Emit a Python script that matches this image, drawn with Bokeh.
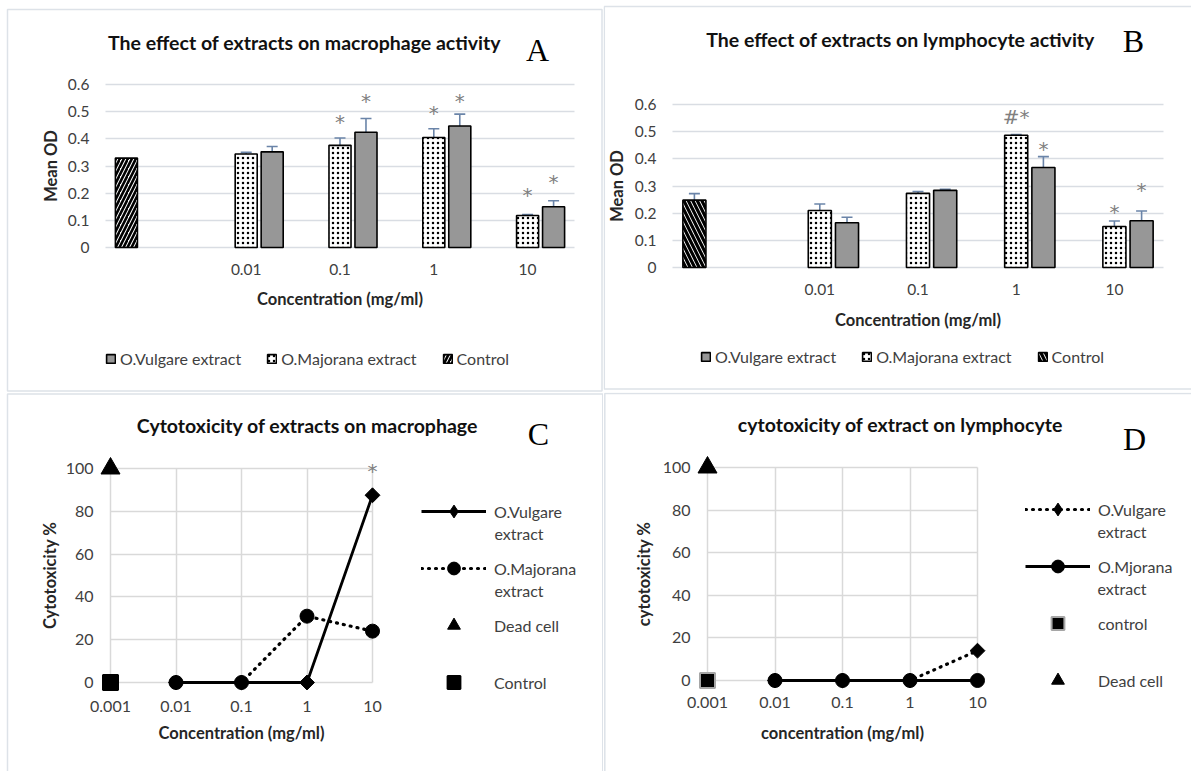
import math
from bokeh.plotting import figure
from bokeh.models import (Range1d, FixedTicker, Label, Legend, LegendItem, Whisker,
                          TeeHead, ColumnDataSource, BoxAnnotation)
from bokeh.layouts import row, column
from bokeh.embed import file_html
from bokeh.resources import INLINE
from bokeh.core.properties import value

# ---------------------------------------------------------------- data
bar_categories = ["", "0.01", "0.1", "1", "10"]
bar_yticks = [0, 0.1, 0.2, 0.3, 0.4, 0.5, 0.6]
bar_yticklabels = ["0", "0.1", "0.2", "0.3", "0.4", "0.5", "0.6"]

# A: macrophage activity (mean OD)
a_vulgare = [None, 0.352, 0.424, 0.447, 0.150]
a_vulgare_err = [None, 0.020, 0.051, 0.044, 0.022]
a_majorana = [None, 0.344, 0.376, 0.405, 0.118]
a_majorana_err = [None, 0.006, 0.027, 0.032, 0.003]
a_control = [0.329, None, None, None, None]
a_control_err = [None, None, None, None, None]
a_vulgare_sig = [None, None, "*", "*", "*"]
a_vulgare_sig_y = [None, None, 0.546, 0.546, 0.249]
a_majorana_sig = [None, None, "*", "*", "*"]
a_majorana_sig_y = [None, None, 0.470, 0.502, 0.202]

# B: lymphocyte activity (mean OD)
b_vulgare = [None, 0.165, 0.284, 0.368, 0.172]
b_vulgare_err = [None, 0.020, 0.004, 0.040, 0.036]
b_majorana = [None, 0.210, 0.273, 0.487, 0.151]
b_majorana_err = [None, 0.024, 0.007, 0.002, 0.020]
b_control = [0.248, None, None, None, None]
b_control_err = [0.024, None, None, None, None]
b_vulgare_sig = [None, None, None, "*", "*"]
b_vulgare_sig_y = [None, None, None, 0.442, 0.294]
b_majorana_sig = [None, None, None, "#*", "*"]
b_majorana_sig_y = [None, None, None, 0.560, 0.213]

# C / D: cytotoxicity (%)
line_xticks = [0.001, 0.01, 0.1, 1, 10]
line_xticklabels = ["0.001", "0.01", "0.1", "1", "10"]
line_yticks = [0, 20, 40, 60, 80, 100]
conc = [0.01, 0.1, 1, 10]
c_vulgare = [0, 0, 0, 87.5]
c_majorana = [0, 0, 31, 24]
c_vulgare_sig = [None, None, None, "*"]
c_vulgare_sig_y = [None, None, None, 100]
d_vulgare = [0, 0, 0, 14]
d_majorana = [0, 0, 0, 0]
ref_conc = [0.001]
dead_cell = [100]
control_cyto = [0]

# ---------------------------------------------------------------- style
FONT = "Lato"
SERIF = "Liberation Serif"
TXT = "#404040"
DARK = "#111111"
GRID_AB = "#d9dde3"
GRID_CD = "#d9d9d9"
ERR = "#6a84a8"
STAR = "#808080"
VUL_FILL = "#979797"
BORDER = "#dde2e8"


def make_ranges(g, dx, dy, xlog=False):
    """Ranges such that the data box dx x dy sits at insets l, r, t, b of the figure."""
    inner_w = g["W"] - g["l"] - g["r"]
    inner_h = g["H"] - g["t"] - g["b"]
    if xlog:
        a, b = math.log10(dx[0]), math.log10(dx[1])
        u = inner_w / (b - a)
        xr = (10 ** (a - g["l"] / u), 10 ** (b + g["r"] / u))
    else:
        u = inner_w / (dx[1] - dx[0])
        xr = (dx[0] - g["l"] / u, dx[1] + g["r"] / u)
    v = inner_h / (dy[1] - dy[0])
    yr = (dy[0] - g["b"] / v, dy[1] + g["t"] / v)
    return xr, yr


def page_to_data(g, xr, yr, xlog=False):
    def f(px, py):
        tx = (px - g["ox"]) / g["W"]
        ty = (g["oy"] + g["H"] - py) / g["H"]
        if xlog:
            a, b = math.log10(xr[0]), math.log10(xr[1])
            x = 10 ** (a + tx * (b - a))
        else:
            x = xr[0] + tx * (xr[1] - xr[0])
        return x, yr[0] + ty * (yr[1] - yr[0])
    return f


def new_fig(g, xr, yr, tick_size, xlog=False):
    kw = dict(width=g["W"], height=g["H"], x_range=Range1d(*xr), y_range=Range1d(*yr),
              output_backend="svg", toolbar_location=None, title=None,
              min_border_left=0, min_border_right=0, min_border_top=0, min_border_bottom=0)
    if xlog:
        kw["x_axis_type"] = "log"
    p = figure(**kw)
    p.outline_line_color = None
    p.background_fill_color = "white"
    p.border_fill_color = "white"
    for ax in (p.xaxis[0], p.yaxis[0]):
        ax.axis_line_color = None
        ax.major_tick_line_color = None
        ax.minor_tick_line_color = None
        ax.major_tick_in = 0
        ax.major_tick_out = 0
        ax.minor_tick_in = 0
        ax.minor_tick_out = 0
        ax.major_label_text_font = FONT
        ax.major_label_text_font_size = tick_size
        ax.major_label_text_color = TXT
        ax.axis_label_text_font = FONT
        ax.axis_label_text_font_size = "16.5px"
        ax.axis_label_text_font_style = "bold"
        ax.axis_label_text_color = "#262626"
    return p


def add_text(p, text, at, size, font, style="bold", color=DARK, align="center"):
    p.add_layout(Label(x=at[0], y=at[1], text=text, text_align=align,
                       text_baseline="middle", text_font=font, text_font_size=size,
                       text_font_style=style, text_color=color))


def add_border(p, to_data, box):
    x0, y0 = to_data(box[0], box[1])
    x1, y1 = to_data(box[2], box[3])
    p.add_layout(BoxAnnotation(left=x0, right=x1, top=y0, bottom=y1, fill_color=None,
                               fill_alpha=0, line_color=BORDER, line_alpha=1,
                               line_width=1.5))


def star_texts(p, xs_all, sig, sig_y):
    xs, ys, ts = [], [], []
    for c, s, y in zip(xs_all, sig, sig_y):
        if s is None:
            continue
        xs.append(c)
        ys.append(y)
        ts.append(s)
    if xs:
        p.text(x=xs, y=ys, text=ts, text_align="center", text_baseline="middle",
               text_font=value("DejaVu Sans"), text_font_size="20px", text_color=STAR,
               y_offset=2)


def bar_panel(g, title, letter, title_px, letter_px, border_box, vul, vul_err, maj, maj_err,
              ctrl, ctrl_err, vul_sig, vul_sig_y, maj_sig, maj_sig_y, ctrl_hatch,
              ctrl_scale, ctrl_weight, legend_loc, xlab_standoff, xtitle_standoff,
              ytitle_standoff):
    n = len(bar_categories)
    dx, dy = (0, n), (0, 0.6)
    xr, yr = make_ranges(g, dx, dy)
    p = new_fig(g, xr, yr, "15.5px")
    to_data = page_to_data(g, xr, yr)
    add_border(p, to_data, border_box)

    centers = [i + 0.5 for i in range(n)]
    slot, bw = 0.277, 0.235

    p.xgrid.visible = False
    p.ygrid.ticker = FixedTicker(ticks=bar_yticks)
    p.ygrid.grid_line_color = GRID_AB
    p.ygrid.grid_line_width = 1.3
    p.ygrid.cross_bounds = dx
    p.yaxis.fixed_location = dx[0]
    p.yaxis.bounds = dy
    p.yaxis.ticker = FixedTicker(ticks=bar_yticks)
    p.yaxis.major_label_overrides = dict(zip(bar_yticks, bar_yticklabels))
    p.yaxis.major_label_standoff = 16
    p.yaxis.axis_label = "Mean OD"
    p.yaxis.axis_label_standoff = ytitle_standoff
    p.xaxis.fixed_location = dy[0]
    p.xaxis.bounds = dx
    p.xaxis.ticker = FixedTicker(ticks=centers)
    p.xaxis.major_label_overrides = dict(zip(centers, bar_categories))
    p.xaxis.major_label_standoff = xlab_standoff
    p.xaxis.axis_label = "Concentration (mg/ml)"
    p.xaxis.axis_label_standoff = xtitle_standoff

    def series(vals, errs, off):
        xs, ys, lo, hi, ex = [], [], [], [], []
        for c, v, e in zip(centers, vals, errs):
            if v is None:
                continue
            xs.append(c + off)
            ys.append(v)
            if e is not None:
                ex.append(c + off)
                lo.append(v - e)
                hi.append(v + e)
        return dict(x=xs, top=ys), dict(x=ex, lower=lo, upper=hi)

    bars = {}
    specs = [
        ("ctrl", ctrl, ctrl_err, -slot, dict(fill_color="white", hatch_pattern=ctrl_hatch,
                                              hatch_color="black", hatch_scale=ctrl_scale,
                                              hatch_weight=ctrl_weight)),
        ("maj", maj, maj_err, 0.0, dict(fill_color="white", hatch_pattern="dot",
                                         hatch_color="black", hatch_scale=5, hatch_weight=1.1)),
        ("vul", vul, vul_err, slot, dict(fill_color=VUL_FILL)),
    ]
    for key, vals, errs, off, style in specs:
        bd, ed = series(vals, errs, off)
        r = p.vbar(x="x", top="top", bottom=0, width=bw, source=ColumnDataSource(bd),
                   line_color="black", line_width=1.6, **style)
        bars[key] = r
        if ed["x"]:
            w = Whisker(base="x", lower="lower", upper="upper", source=ColumnDataSource(ed),
                        line_color=ERR, line_width=1.6,
                        upper_head=TeeHead(size=11, line_color=ERR, line_width=1.6),
                        lower_head=TeeHead(size=11, line_color=ERR, line_width=1.6))
            p.add_layout(w)

    star_texts(p, centers, maj_sig, maj_sig_y)
    star_texts(p, [c + slot for c in centers], vul_sig, vul_sig_y)

    add_text(p, title, to_data(*title_px), "19.5px", FONT)
    add_text(p, letter, to_data(*letter_px), "32px", SERIF, style="normal", color="black")

    legend = Legend(items=[LegendItem(label="O.Vulgare extract", renderers=[bars["vul"]]),
                           LegendItem(label="O.Majorana extract", renderers=[bars["maj"]]),
                           LegendItem(label="Control", renderers=[bars["ctrl"]])],
                    orientation="horizontal", location=legend_loc,
                    glyph_width=11, glyph_height=11, label_standoff=4, spacing=25,
                    padding=0, margin=0, border_line_color=None, background_fill_alpha=0,
                    label_text_font=FONT, label_text_font_size="16px",
                    label_text_color=TXT)
    p.add_layout(legend)
    return p


def line_panel(g, title, letter, title_px, letter_px, border_box, xtitle, ytitle, vul, maj,
               vul_dash, maj_dash, vul_sig, vul_sig_y, ctrl_line, leg_names, leg_loc,
               extract_px, xlab_standoff, xtitle_standoff, ytitle_standoff):
    dx, dy = (line_xticks[0], line_xticks[-1]), (line_yticks[0], line_yticks[-1])
    xr, yr = make_ranges(g, dx, dy, xlog=True)
    p = new_fig(g, xr, yr, "16px", xlog=True)
    to_data = page_to_data(g, xr, yr, xlog=True)
    add_border(p, to_data, border_box)

    for grid, ticks, cb in ((p.xgrid[0], line_xticks, dy), (p.ygrid[0], line_yticks, dx)):
        grid.ticker = FixedTicker(ticks=ticks)
        grid.grid_line_color = GRID_CD
        grid.grid_line_width = 1.5
        grid.cross_bounds = cb
    p.xaxis.fixed_location = dy[0]
    p.xaxis.bounds = dx
    p.xaxis.ticker = FixedTicker(ticks=line_xticks)
    p.xaxis.major_label_overrides = dict(zip(line_xticks, line_xticklabels))
    p.xaxis.major_label_standoff = xlab_standoff
    p.xaxis.axis_label = xtitle
    p.xaxis.axis_label_standoff = xtitle_standoff
    p.yaxis.fixed_location = dx[0]
    p.yaxis.bounds = dy
    p.yaxis.ticker = FixedTicker(ticks=line_yticks)
    p.yaxis.major_label_standoff = 17
    p.yaxis.axis_label = ytitle
    p.yaxis.axis_label_standoff = ytitle_standoff

    def dash_kw(d):
        if d:
            return dict(line_dash="1 6", line_cap="round", line_width=3.2)
        return dict(line_width=2.8)

    r_maj_line = p.line(conc, maj, line_color="black", **dash_kw(maj_dash))
    r_vul_line = p.line(conc, vul, line_color="black", **dash_kw(vul_dash))
    r_maj_pts = p.scatter(conc, maj, marker="circle", size=14, color="black")
    p.scatter(conc, vul, marker="square", angle=math.pi / 4, size=10.5, color="black")
    r_ctrl = p.scatter(ref_conc, control_cyto, marker="square", size=15,
                       fill_color="black", line_color=ctrl_line, line_width=2)
    r_dead = p.scatter(ref_conc, dead_cell, marker="triangle", size=19, color="black")
    # legend key for the diamond markers: a single missing (NaN) point, never drawn
    key_src = ColumnDataSource(dict(x=[float("nan")], y=[float("nan")]))
    r_vul_key = p.scatter(x="x", y="y", source=key_src, marker="diamond", color="black")

    star_texts(p, conc, vul_sig, vul_sig_y)

    add_text(p, title, to_data(*title_px), "19.5px", FONT)
    add_text(p, letter, to_data(*letter_px), "32px", SERIF, style="normal", color="black")

    lookup = {"vul": [r_vul_line, r_vul_key], "maj": [r_maj_line, r_maj_pts],
              "dead": [r_dead], "ctrl": [r_ctrl]}
    items = [LegendItem(label=lab, renderers=lookup[k]) for k, lab in leg_names]
    p.add_layout(Legend(items=items, location=leg_loc, orientation="vertical",
                        glyph_width=65, glyph_height=32, label_standoff=8, spacing=25,
                        padding=0, margin=0, border_line_color=None,
                        background_fill_alpha=0, label_text_font=FONT,
                        label_text_font_size="16px", label_text_color=TXT))
    for at in extract_px:
        add_text(p, "extract", to_data(*at), "16px", FONT, style="normal", color=TXT,
                 align="left")
    return p


# figure origin on the page, size, and insets of the data box
GA = dict(ox=0, oy=0, W=603, H=392, l=105, r=29, t=84, b=145)
GB = dict(ox=603, oy=0, W=588, H=392, l=69, r=28, t=104, b=125)
GC = dict(ox=0, oy=392, W=603, H=379, l=110, r=231, t=76, b=89)
GD = dict(ox=603, oy=392, W=588, H=379, l=104, r=214, t=75, b=91)

pA = bar_panel(GA, "The effect of extracts on macrophage activity", "A", (304, 42), (537, 49),
               (7, 9, 601.5, 390.5),
               a_vulgare, a_vulgare_err, a_majorana, a_majorana_err, a_control, a_control_err,
               a_vulgare_sig, a_vulgare_sig_y, a_majorana_sig, a_majorana_sig_y,
               "right_diagonal_line", 8, 2.6, (105, 24), 16, 11, 4)
pB = bar_panel(GB, "The effect of extracts on lymphocyte activity", "B", (900, 39), (1133, 40),
               (603.8, 6, 1200, 388.5),
               b_vulgare, b_vulgare_err, b_majorana, b_majorana_err, b_control, b_control_err,
               b_vulgare_sig, b_vulgare_sig_y, b_majorana_sig, b_majorana_sig_y,
               "left_diagonal_line", 9, 3.2, (97, 26), 16, 12, 5)
pC = line_panel(GC, "Cytotoxicity of extracts on macrophage", "C", (307, 425), (538, 433),
                (7, 393.5, 602.3, 790),
                "Concentration (mg/ml)", "Cytotoxicity %", c_vulgare, c_majorana,
                False, True, c_vulgare_sig, c_vulgare_sig_y, "black",
                [("vul", "O.Vulgare"), ("maj", "O.Majorana"),
                 ("dead", "Dead cell"), ("ctrl", "Control")],
                (421, 73), [(494, 533), (494, 590)], 18, 8, 3)
pD = line_panel(GD, "cytotoxicity of extract on lymphocyte", "D", (900, 424), (1134, 438),
                (604.3, 393, 1200, 790),
                "concentration (mg/ml)", "cytotoxicity %", d_vulgare, d_majorana,
                True, False, [None] * 4, [None] * 4, "#a6a6a6",
                [("vul", "O.Vulgare"), ("maj", "O.Mjorana"),
                 ("ctrl", "control"), ("dead", "Dead cell")],
                (422, 75), [(1097, 531), (1097, 588)], 16, 12, 6)

layout = column(row(pA, pB), row(pC, pD))
open("out.html", "w").write(file_html(layout, INLINE, "Extracts"))
